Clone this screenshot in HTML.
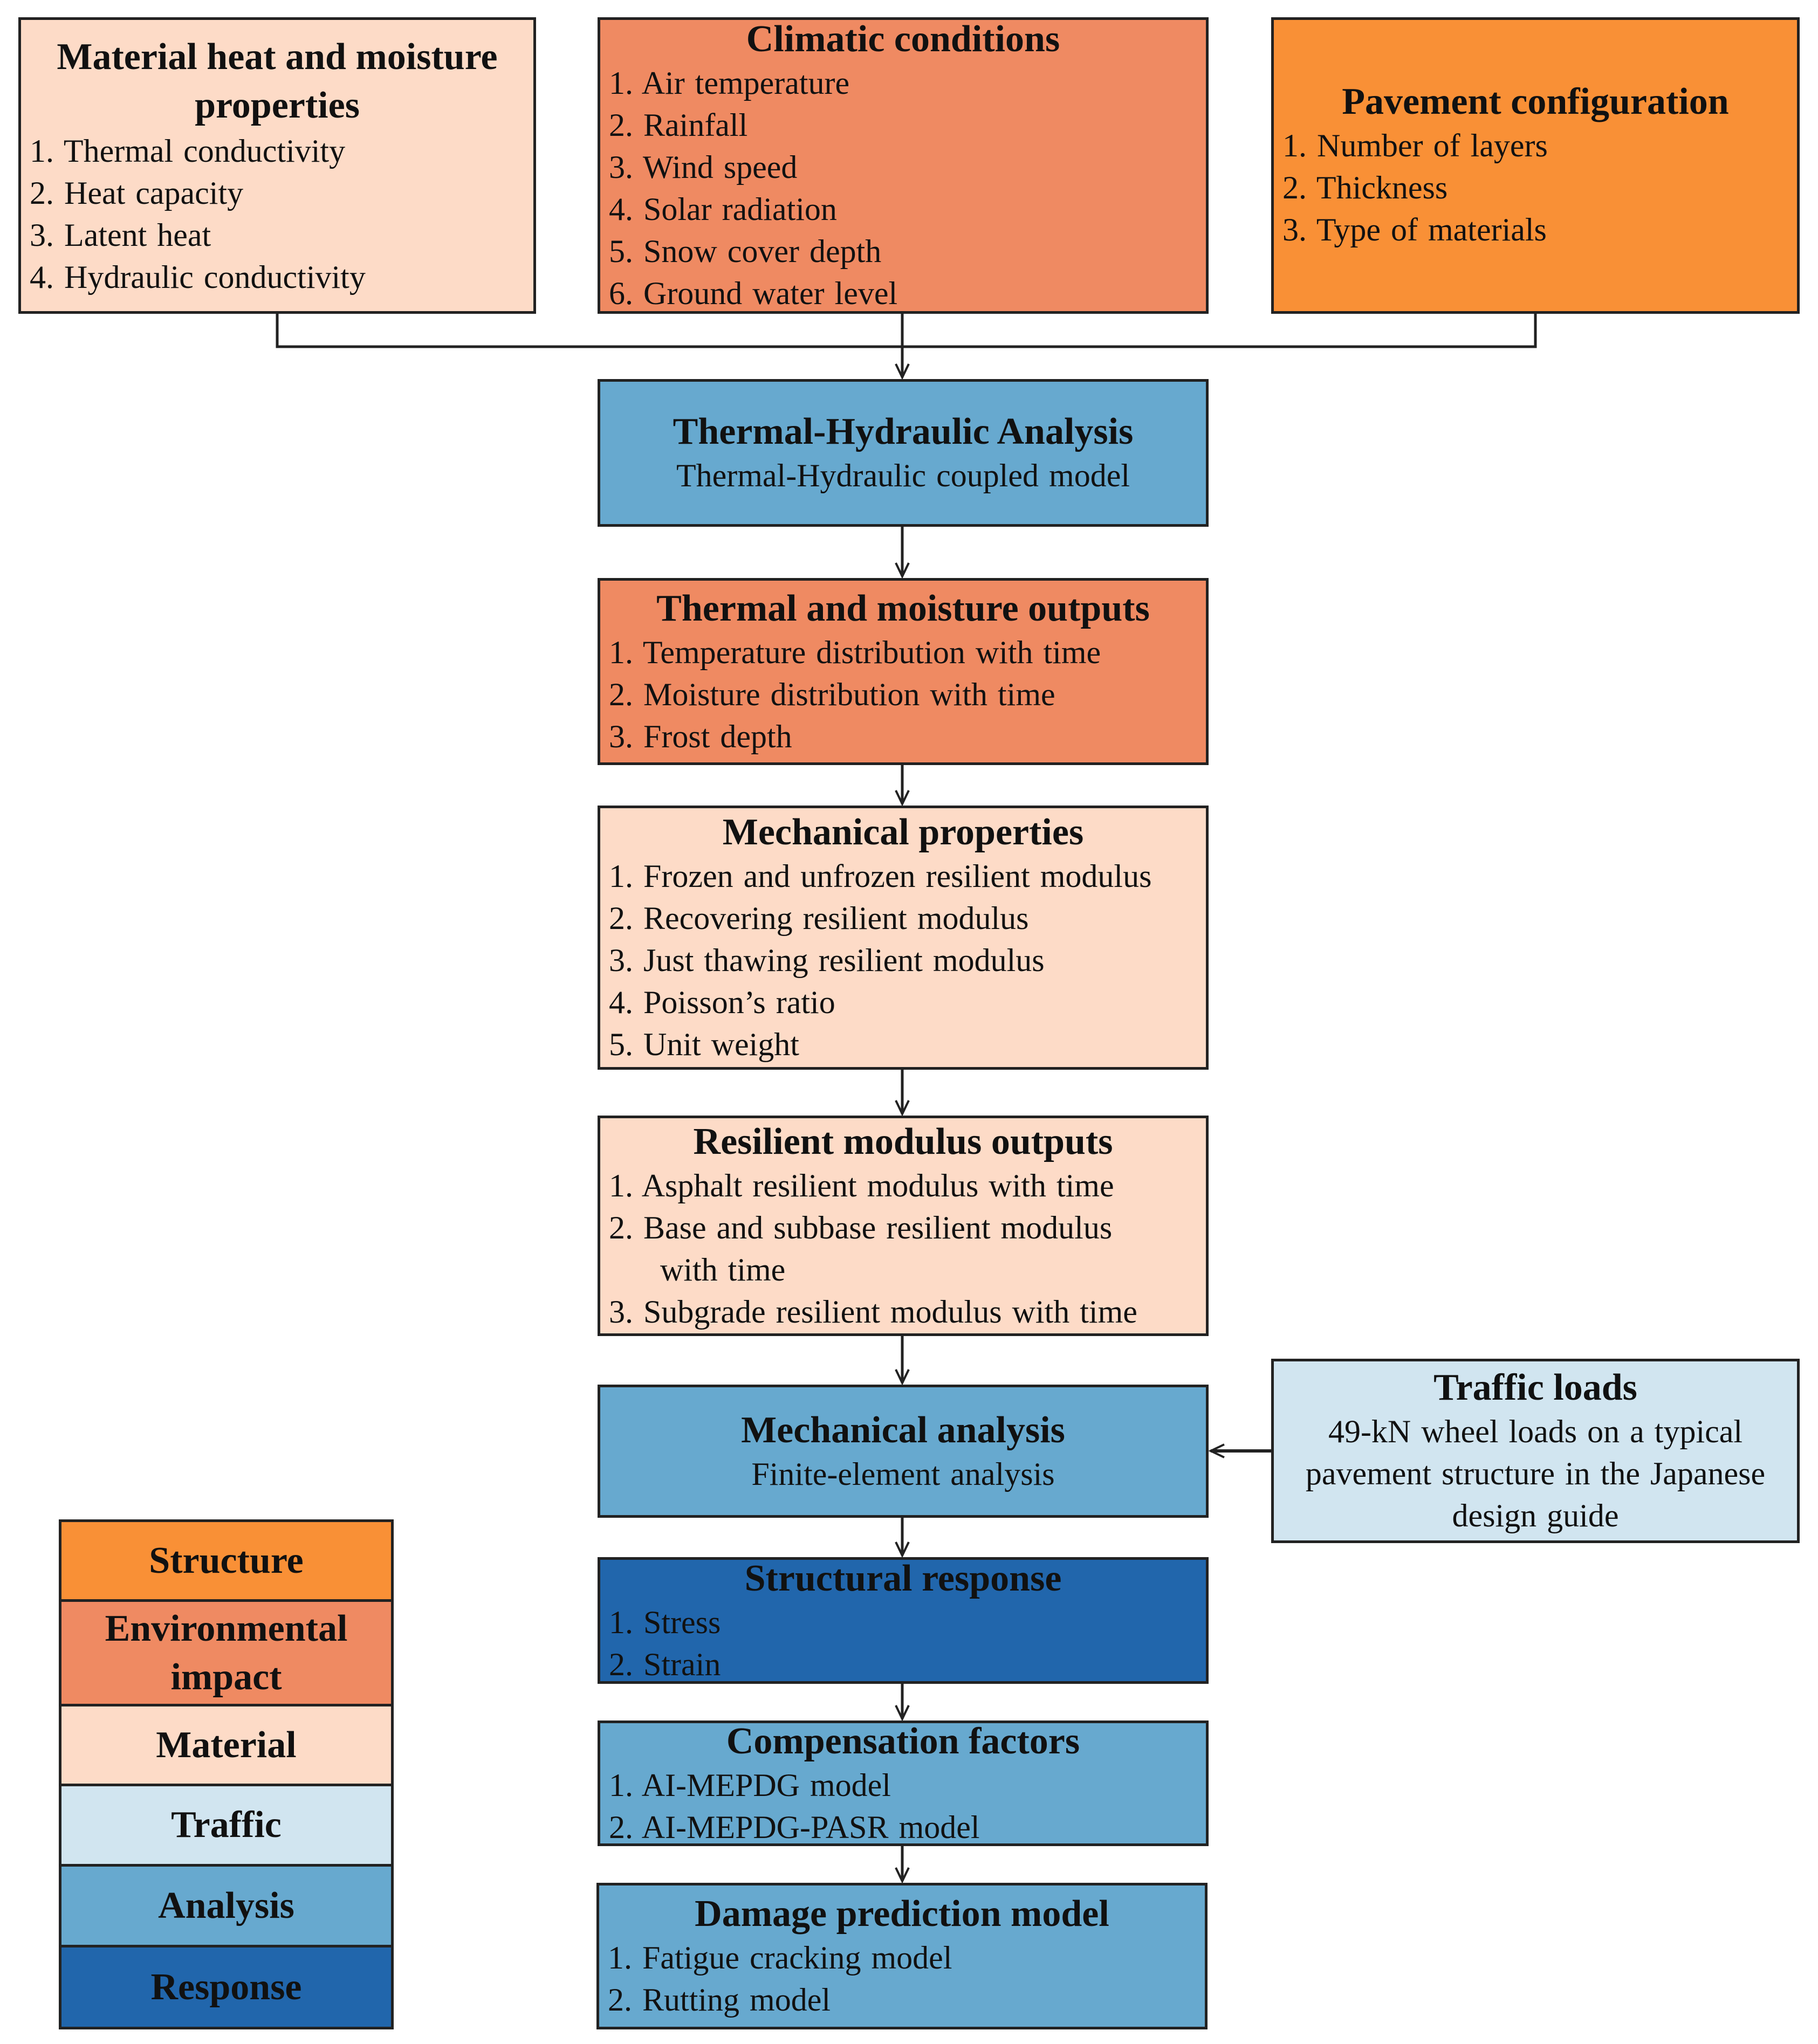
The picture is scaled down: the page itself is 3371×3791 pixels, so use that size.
<!DOCTYPE html>
<html><head><meta charset="utf-8"><style>
body{margin:0;width:3371px;height:3791px;background:#fff;position:relative;font-family:"Liberation Serif","Times New Roman",serif;color:#111;overflow:hidden}
.b{position:absolute;box-sizing:border-box;border:5px solid #222;display:flex;flex-direction:column;justify-content:center;padding:0 16px}
.t{font-weight:bold;font-size:70px;line-height:84px;text-align:center;white-space:nowrap}
.i{font-size:60px;line-height:78px;white-space:nowrap;word-spacing:4px}
.c{text-align:center}
.pe{background:#FDDBC7}.sa{background:#EF8A62}.or{background:#F99036}.lb{background:#D1E5F0}.an{background:#67A9CF}.rs{background:#2166AC}
.lg{position:absolute;left:109px;width:621px;box-sizing:border-box;border:5px solid #222;display:flex;align-items:center;justify-content:center;text-align:center;font-weight:bold;font-size:70px;line-height:90px}
svg{position:absolute;left:0;top:0}
</style></head><body>
<div class="b pe" style="left:34px;top:32px;width:960px;height:550px">
<div class="t" style="line-height:90px">Material heat and moisture<br>properties</div>
<div class="i">1. Thermal conductivity</div><div class="i">2. Heat capacity</div><div class="i">3. Latent heat</div><div class="i">4. Hydraulic conductivity</div></div>
<div class="b sa" style="left:1108px;top:32px;width:1133px;height:550px">
<div class="t">Climatic conditions</div>
<div class="i">1. Air temperature</div><div class="i">2. Rainfall</div><div class="i">3. Wind speed</div><div class="i">4. Solar radiation</div><div class="i">5. Snow cover depth</div><div class="i">6. Ground water level</div></div>
<div class="b or" style="left:2357px;top:32px;width:980px;height:550px;justify-content:flex-start;padding-top:110px">
<div class="t">Pavement configuration</div>
<div class="i">1. Number of layers</div><div class="i">2. Thickness</div><div class="i">3. Type of materials</div></div>
<div class="b an" style="left:1108px;top:703px;width:1133px;height:274px">
<div class="t">Thermal-Hydraulic Analysis</div><div class="i c">Thermal-Hydraulic coupled model</div></div>
<div class="b sa" style="left:1108px;top:1072px;width:1133px;height:347px">
<div class="t">Thermal and moisture outputs</div>
<div class="i">1. Temperature distribution with time</div><div class="i">2. Moisture distribution with time</div><div class="i">3. Frost depth</div></div>
<div class="b pe" style="left:1108px;top:1494px;width:1133px;height:490px">
<div class="t">Mechanical properties</div>
<div class="i">1. Frozen and unfrozen resilient modulus</div><div class="i">2. Recovering resilient modulus</div><div class="i">3. Just thawing resilient modulus</div><div class="i">4. Poisson’s ratio</div><div class="i">5. Unit weight</div></div>
<div class="b pe" style="left:1108px;top:2069px;width:1133px;height:409px">
<div class="t">Resilient modulus outputs</div>
<div class="i">1. Asphalt resilient modulus with time</div><div class="i">2. Base and subbase resilient modulus</div><div class="i">&nbsp;&nbsp;&nbsp;&nbsp;&nbsp;with time</div><div class="i">3. Subgrade resilient modulus with time</div></div>
<div class="b an" style="left:1108px;top:2568px;width:1133px;height:247px">
<div class="t">Mechanical analysis</div><div class="i c">Finite-element analysis</div></div>
<div class="b lb" style="left:2357px;top:2520px;width:980px;height:342px">
<div class="t">Traffic loads</div><div class="i c">49-kN wheel loads on a typical</div><div class="i c">pavement structure in the Japanese</div><div class="i c">design guide</div></div>
<div class="b rs" style="left:1108px;top:2888px;width:1133px;height:235px">
<div class="t">Structural response</div><div class="i">1. Stress</div><div class="i">2. Strain</div></div>
<div class="b an" style="left:1108px;top:3191px;width:1133px;height:233px">
<div class="t">Compensation factors</div><div class="i">1. AI-MEPDG model</div><div class="i">2. AI-MEPDG-PASR model</div></div>
<div class="b an" style="left:1106px;top:3492px;width:1133px;height:272px">
<div class="t">Damage prediction model</div><div class="i">1. Fatigue cracking model</div><div class="i">2. Rutting model</div></div>
<div class="lg or" style="top:2818px;height:153px">Structure</div>
<div class="lg sa" style="top:2966px;height:199px">Environmental<br>impact</div>
<div class="lg pe" style="top:3160px;height:153px">Material</div>
<div class="lg lb" style="top:3308px;height:154px">Traffic</div>
<div class="lg an" style="top:3457px;height:155px">Analysis</div>
<div class="lg rs" style="top:3607px;height:157px">Response</div>
<svg width="3371" height="3791" fill="none" stroke="#222" stroke-width="5">
<polyline points="514,582 514,643 2847,643 2847,582"/>
<line x1="1673" y1="582" x2="1673" y2="700"/>
<line x1="1673" y1="977" x2="1673" y2="1069"/>
<line x1="1673" y1="1419" x2="1673" y2="1491"/>
<line x1="1673" y1="1984" x2="1673" y2="2066"/>
<line x1="1673" y1="2478" x2="1673" y2="2565"/>
<line x1="1673" y1="2815" x2="1673" y2="2885"/>
<line x1="1673" y1="3123" x2="1673" y2="3188"/>
<line x1="1673" y1="3424" x2="1673" y2="3489"/>
<line x1="2357" y1="2691" x2="2245" y2="2691" stroke-width="6"/>
<g stroke-width="4">
<polyline points="1661,675 1673,700 1685,675"/>
<polyline points="1661,1044 1673,1069 1685,1044"/>
<polyline points="1661,1466 1673,1491 1685,1466"/>
<polyline points="1661,2041 1673,2066 1685,2041"/>
<polyline points="1661,2540 1673,2565 1685,2540"/>
<polyline points="1661,2860 1673,2885 1685,2860"/>
<polyline points="1661,3163 1673,3188 1685,3163"/>
<polyline points="1661,3464 1673,3489 1685,3464"/>
<polyline points="2270,2679 2245,2691 2270,2703"/>
</g></svg>
</body></html>
